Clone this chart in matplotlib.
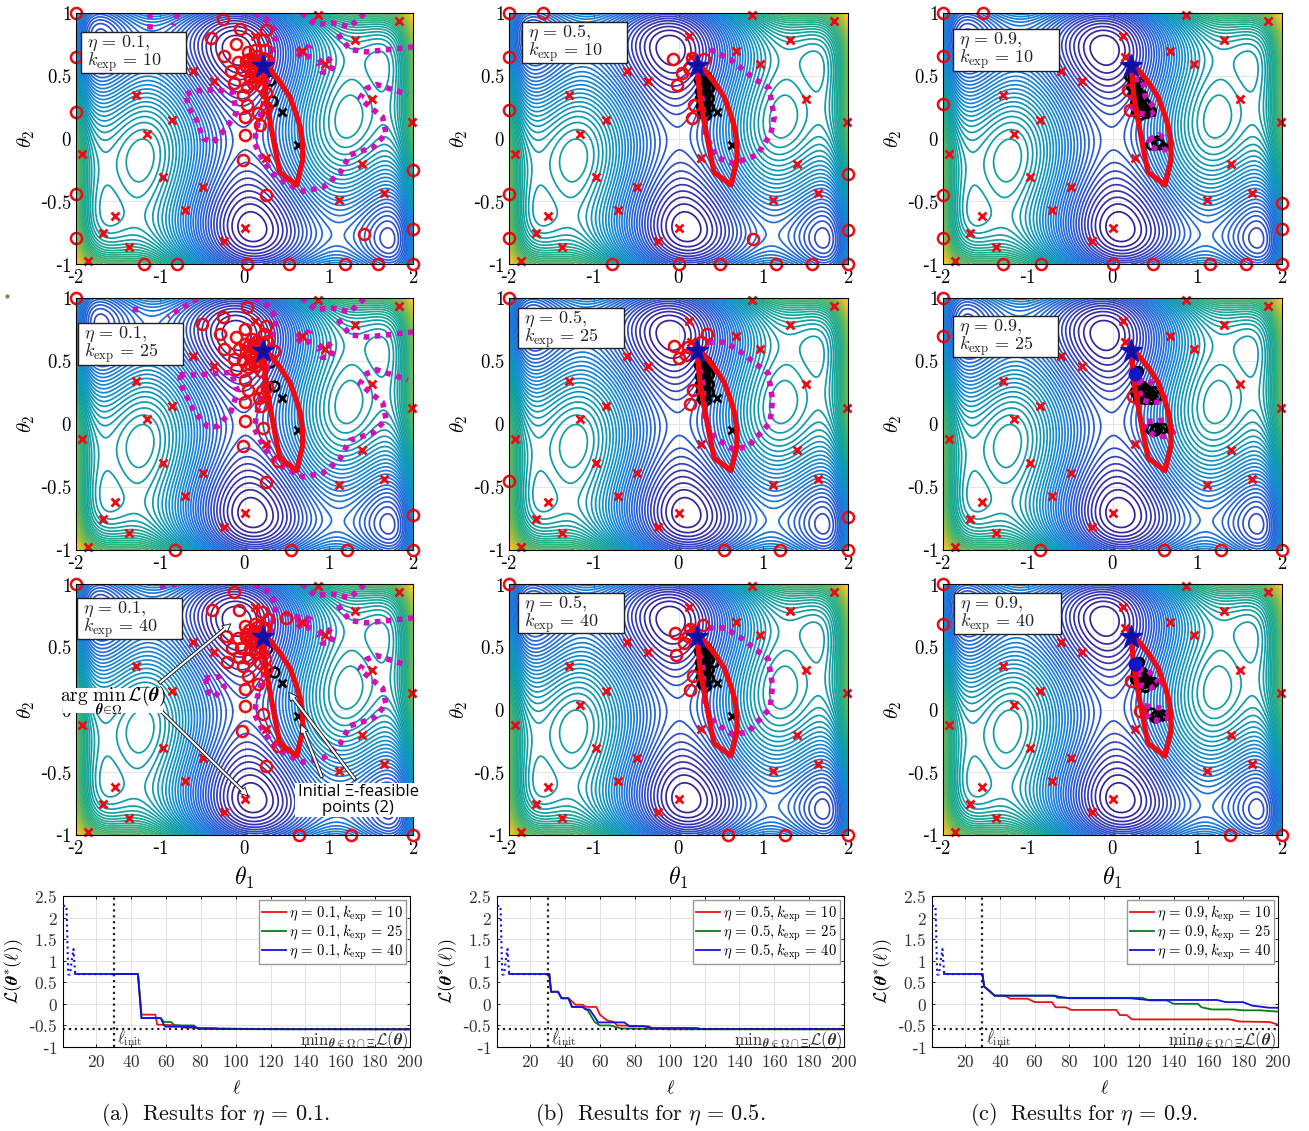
import matplotlib
matplotlib.use('Agg')
import matplotlib.pyplot as plt
import numpy as np
from matplotlib.colors import LinearSegmentedColormap
from matplotlib.lines import Line2D
from matplotlib.patches import Rectangle, FancyArrowPatch

W, H = 1309, 1131
plt.rcParams['mathtext.fontset'] = 'cm'
plt.rcParams['axes.unicode_minus'] = False

etas = ['0.1', '0.5', '0.9']
kexps = ['10', '25', '40']
letters = ['a', 'b', 'c']
caption_x = [216, 650, 1084]

# red crosses, same in every panel
cross_x = [0.87, 1.83, 1.31, 0.68, 0.96, 1.51, 1.99, 1.40, 1.65, 1.12, 0.26, 0.0, -0.245, -0.71,
           -0.49, -0.97, -1.16, -0.86, -1.29, -0.365, -0.61, -1.925, -1.54, -1.68, -1.37, -1.86, 0.12, 0.15]
cross_y = [0.987, 0.936, 0.784, 0.70, 0.595, 0.317, 0.13, -0.203, -0.435, -0.488, -0.155, -0.71, -0.82, -0.573,
           -0.387, -0.307, 0.037, 0.144, 0.344, 0.459, 0.539, -0.123, -0.62, -0.755, -0.867, -0.976, 0.82, 0.65]
start_x = [0.45, 0.63]
start_y = [0.21, -0.05]
star_x, star_y = 0.22, 0.58

# thick red outline
hull = [(0.22, 0.58), (0.30, 0.55), (0.42, 0.45), (0.54, 0.33), (0.62, 0.18), (0.66, 0.09), (0.69, -0.05),
        (0.69, -0.17), (0.62, -0.37), (0.42, -0.27), (0.36, -0.07), (0.30, 0.15), (0.25, 0.35), (0.22, 0.58)]

# tight knot of red circles near the star in the eta = 0.1 panels
knot_01 = [(.02, .58), (.06, .55), (.1, .52), (.14, .55), (.1, .6), (.05, .63), (.16, .6), (.18, .5), (.12, .46),
           (.07, .48), (.2, .55), (.15, .66), (.22, .64)]

# red circles per panel (eta, kexp)
circles = {
    (0, 0): knot_01 + [(-2, 1), (-2, .648), (-2, .208), (-2, -.44), (-2, -.79), (-1.19, -1), (-.806, -1), (.03, -1), (.526, -1),
             (1.19, -1), (1.59, -1), (2, -1), (2, -.72), (2, -.253), (1.415, -.76), (.26, -.453), (-.02, -.173),
             (0, .027), (0, .173), (.18, .107), (.03, .267), (.16, .2), (.26, .253), (-.016, .347), (.26, .36),
             (-.25, .95), (-.055, .872), (.25, .861), (-.4, .8), (-.1, .752), (-.245, .661), (-.16, .539),
             (-.12, .44), (-.075, .613), (.04, .693), (.12, .707), (.24, .707), (.22, .787), (.024, .413),
             (.1, .44), (-.016, .547), (.06, .493), (.02, .62), (.1, .58), (.15, .5), (.2, .42), (.28, .62)],
    (0, 1): knot_01 + [(-2, 1), (-.83, -1), (.55, -1), (1.22, -1), (2, -1), (2, -.725), (.26, -.46), (-.02, -.173), (.4, -.29),
             (0, .027), (.22, -.03), (0, .173), (.2, .14), (.17, .21), (.04, .267), (.27, .29), (.01, .35), (.21, .26),
             (.03, .93), (-.25, .85), (-.5, .795), (-.29, .715), (-.1, .693), (0, .755), (-.24, .595), (.25, .78),
             (.23, .715), (-.12, .515), (-.1, .435), (0, .635), (.09, .675), (.04, .45), (-.06, .595), (.06, .54),
             (.35, .58), (.11, .49), (.15, .61), (.27, .66), (-.02, .51), (.2, .42)],
    (0, 2): knot_01 + [(-2, 1), (.65, -1), (1.27, -1), (2, -1), (-.12, .933), (-.38, .795), (-.07, .795), (.21, .773), (.49, .733),
             (.26, -.453), (-.03, -.173), (.22, -.035), (.4, -.293), (0, .027), (0, .165), (.16, .2), (.04, .267),
             (.25, .32), (-.02, .347), (-.21, .38), (-.15, .488), (-.22, .587), (-.06, .42), (.04, .413), (-.08, .573),
             (0, .667), (.12, .68), (.24, .653), (.06, .547), (.12, .48), (.02, .6), (.28, .72), (-.04, .493),
             (.18, .373), (.14, .57), (.24, .4)],
    (1, 0): [(-2, 1), (-1.6, 1), (-2, .65), (-2, .227), (-2, -.445), (-2, -.795), (-.79, -1), (0, -1), (.49, -1),
             (1.15, -1), (1.58, -1), (2, -1), (2, -.73), (2, -.285), (.88, -.8), (-.07, .632), (-.02, .427), (.16, .16),
             (.18, .27), (.04, .525), (.12, .56), (.16, .64), (.3, .63)],
    (1, 1): [(-2, 1), (-2, -.453), (.54, -1), (1.2, -1), (2, -1), (2, -.74), (-.05, .62), (0, .52), (.11, .61),
             (.34, .715), (.27, .653), (.17, .267), (.14, .16), (.09, .547)],
    (1, 2): [(-2, 1), (.58, -1), (1.26, -1), (2, -1), (-.04, .613), (-.03, .432), (.07, .533), (.11, .587), (.29, .675),
             (.17, .267), (.14, .155), (.13, .64)],
    (2, 0): [(-2, 1), (-1.53, 1), (-2, .66), (-2, .275), (-2, -.453), (-2, -.795), (-1.29, -1), (-.84, -1), (0, -1),
             (.48, -1), (1.15, -1), (1.57, -1), (2, -1), (2, -.72), (2, -.51), (.18, .39), (.21, .227)],
    (2, 1): [(-2, 1), (-2, .7), (-.85, -1), (.61, -1), (1.28, -1), (2, -1), (.24, .22)],
    (2, 2): [(-2, 1), (-2, .683), (1.39, -1), (2, -1), (.22, .227), (.32, -.01)],
}

# black circles per panel: upper strip is joined up, lower knot is not
band_05 = [(.24, .47), (.25, .38), (.25, .32), (.26, .26), (.28, .2), (.33, .19), (.36, .25), (.36, .32), (.36, .4),
           (.36, .47), (.33, .5), (.3, .46), (.3, .36), (.3, .26)]
black_upper = {
    (0, 0): [],
    (0, 1): [],
    (0, 2): [],
    (1, 0): band_05,
    (1, 1): band_05,
    (1, 2): band_05,
    (2, 0): [(.2, .5), (.22, .42), (.24, .35), (.26, .28), (.28, .21), (.33, .19), (.4, .2), (.45, .22), (.38, .28),
             (.35, .35), (.32, .45), (.3, .3), (.3, .22), (.27, .4)],
    (2, 1): [(.27, .4), (.3, .42), (.28, .33), (.27, .25), (.3, .2), (.38, .2), (.45, .2), (.52, .22), (.4, .28),
             (.35, .3), (.48, .26), (.36, .22), (.32, .3)],
    (2, 2): [(.27, .36), (.31, .38), (.28, .3), (.27, .24), (.3, .2), (.38, .18), (.45, .2), (.4, .27), (.35, .3),
             (.48, .22), (.35, .22), (.32, .3)],
}
black_loose = {
    (0, 0): [(.33, .3), (.3, .47)],
    (0, 1): [(.35, .3), (.3, .49)],
    (0, 2): [(.35, .3), (.27, .49)],
    (1, 0): [(.37, .42)],
    (1, 1): [],
    (1, 2): [(.41, .38)],
    (2, 0): [(.45, -.04), (.52, -.03), (.55, -.04), (.53, -.02)],
    (2, 1): [(.45, -.04), (.52, -.03), (.58, -.03), (.5, -.05)],
    (2, 2): [(.45, -.03), (.52, -.04), (.58, -.04), (.5, -.06)],
}
blue_dot = {(2, 1): (.27, .4), (2, 2): (.27, .36)}

# magenta dotted boundary pieces
mag_main = [(.12, 1), (.26, .95), (.38, .84), (.32, .65), (.32, .55), (.26, .44), (.22, .25), (.14, .07), (.12, -.04),
            (.22, -.17), (.34, -.28), (.5, -.36), (.7, -.42), (.93, -.39), (1.13, -.28), (1.25, -.13), (1.53, -.07),
            (1.68, .04), (1.64, .17), (1.49, .25), (1.37, .32), (1.45, .4), (1.57, .43), (1.94, .35)]
mag_top = [(.68, 1), (.84, .91), (1.05, .92), (1.25, .89), (1.43, 1)]
mag_right = [(1.11, .83), (1.25, .71), (1.45, .69), (2, .73)]
ring_a = [(.62, .69), (.7, .74), (.78, .72), (.76, .65), (.68, .64), (.62, .69)]
ring_b = [(.88, .6), (.96, .65), (1.06, .6), (1.02, .53), (.92, .53), (.88, .6)]
mag_ring_05 = [(.35, .65), (.55, .65), (.76, .56), (1.06, .4), (1.11, .19), (1.08, .01), (.82, -.18), (.64, -.2),
               (.43, -.11), (.31, .03), (.29, .32), (.23, .5)]
magenta = {
    (0, 0): [[(-1.12, 1), (-1.12, .86)], [(-.79, 1), (-.85, .9)], mag_main, mag_top, mag_right, ring_a, ring_b,
             [(-.69, .35), (-.61, .38), (-.33, .39), (-.13, .36), (-.1, .2), (-.21, .09), (-.37, -.03), (-.49, 0),
              (-.57, .15), (-.67, .25), (-.69, .35)]],
    (0, 1): [[(-1.29, .93), (-1.31, .85)], [(-.56, 1), (-.91, .85)], mag_main, mag_top, mag_right, ring_a, ring_b,
             [(-.77, .39), (-.55, .39), (-.16, .41), (-.08, .26), (-.16, .1), (-.32, -.02), (-.44, -.02), (-.6, .1),
              (-.74, .29), (-.77, .39)]],
    (0, 2): [[(-1.0, .98), (-.8, 1)], mag_main, mag_top, mag_right, ring_a, ring_b,
             [(.47, .77), (.62, .74), (.8, .68)],
             [(-.47, .25), (-.3, .26), (-.24, .18), (-.36, .1), (-.42, .13), (-.47, .25)]],
    (1, 0): [[(.37, .71), (.61, .63), (.89, .48), (1.07, .40), (1.13, .17), (1.09, .04), (.93, -.13), (.65, -.2),
              (.45, -.15), (.32, .03), (.28, .31), (.22, .49)]],
    (1, 1): [mag_ring_05],
    (1, 2): [mag_ring_05],
    (2, 0): [[(.25, .47), (.35, .47), (.39, .33), (.51, .23), (.45, .19), (.31, .2), (.23, .25), (.23, .39), (.25, .47)],
             [(.43, -.01), (.55, .03), (.7, -.04), (.62, -.09), (.53, -.09), (.43, -.05), (.43, -.01)]],
    (2, 1): [[(.3, .34), (.41, .35), (.61, .26), (.61, .18), (.49, .17), (.34, .19), (.3, .34)],
             [(.41, .02), (.61, .03), (.75, -.05), (.61, -.1), (.49, -.09), (.38, -.03), (.41, .02)]],
    (2, 2): [[(.3, .32), (.41, .32), (.55, .21), (.45, .17), (.34, .19), (.3, .32)],
             [(.38, .03), (.57, .01), (.71, -.05), (.57, -.09), (.45, -.08), (.36, -.01), (.38, .03)]],
}

# best value so far vs iteration, as (iteration, value) breakpoints
init_l = [1, 3, 4, 5, 6, 7, 8, 30]
init_v = [2.27, 2.27, 0.68, 0.68, 1.0, 1.27, 0.69, 0.69]
best_a = {
    '10': [(30, .69), (44, .69), (46, -.25), (54, -.25), (55, -.48), (68, -.5), (70, -.55), (80, -.56), (105, -.58), (200, -.59)],
    '25': [(30, .69), (44, .69), (46, -.33), (57, -.33), (59, -.42), (63, -.42), (65, -.5), (76, -.5), (78, -.56), (88, -.56), (90, -.58), (125, -.58), (200, -.59)],
    '40': [(30, .69), (44, .69), (46, -.33), (57, -.33), (59, -.5), (60, -.53), (76, -.53), (79, -.58), (130, -.59), (200, -.59)],
}
best_b = {
    '10': [(30, .69), (31, .69), (32, .28), (36, .28), (38, .13), (42, .13), (45, .02), (46, -.02), (50, -.02), (52, -.07), (58, -.07), (60, -.25), (64, -.38), (68, -.42), (70, -.5), (88, -.52), (90, -.57), (115, -.58), (200, -.59)],
    '25': [(30, .69), (31, .69), (32, .28), (36, .28), (38, .13), (42, .13), (44, -.07), (50, -.07), (53, -.15), (57, -.42), (60, -.5), (66, -.5), (72, -.57), (100, -.59), (200, -.59)],
    '40': [(30, .69), (31, .69), (32, .28), (36, .28), (38, .13), (42, .13), (44, -.07), (50, -.07), (52, -.13), (54, -.13), (57, -.3), (59, -.43), (74, -.43), (77, -.52), (85, -.52), (90, -.56), (115, -.56), (118, -.58), (200, -.58)],
}
best_c = {
    '10': [(30, .69), (31, .4), (34, .3), (37, .19), (43, .19), (46, .12), (56, .12), (60, .04), (70, .04), (72, -.08), (78, -.08), (81, -.14), (107, -.14), (109, -.26), (113, -.26), (116, -.36), (172, -.36), (178, -.41), (195, -.42), (200, -.48)],
    '25': [(30, .69), (31, .4), (34, .3), (37, .19), (72, .19), (73, .14), (122, .14), (126, .08), (136, .08), (140, 0), (154, 0), (156, -.08), (162, -.13), (175, -.13), (180, -.15), (190, -.15), (200, -.18)],
    '40': [(30, .69), (31, .4), (34, .3), (37, .19), (70, .19), (80, .13), (115, .13), (125, .09), (165, .09), (170, .04), (180, .04), (185, -.04), (195, -.09), (200, -.09)],
}
best_all = [best_a, best_b, best_c]
min_value = -0.59

# axes frames in reference pixels: left, right, top, bottom
cols = [(76, 413), (509, 848), (943, 1282)]
rows = [(13, 264), (298, 550), (584, 835)]
bottom_cols = [(63, 410), (497, 844), (932, 1278)]
# text boxes: left, right, top, bottom
boxes = {(0, 0): (81, 186, 32, 73), (1, 0): (522, 627, 22, 63), (2, 0): (953, 1059, 29, 71),
         (0, 1): (78, 183, 323, 365), (1, 1): (518, 624, 308, 348), (2, 1): (953, 1058, 316, 357),
         (0, 2): (77, 182, 598, 639), (1, 2): (518, 624, 593, 633), (2, 2): (954, 1061, 593, 634)}

parula = LinearSegmentedColormap.from_list('parula', [
    (0.00, (0.20, 0.12, 0.58)), (0.08, (0.22, 0.22, 0.72)), (0.17, (0.16, 0.36, 0.84)), (0.30, (0.10, 0.50, 0.86)),
    (0.40, (0.06, 0.58, 0.76)), (0.50, (0.06, 0.62, 0.66)), (0.62, (0.15, 0.68, 0.52)), (0.76, (0.50, 0.74, 0.30)),
    (0.90, (0.92, 0.74, 0.18)), (1.00, (1.00, 0.86, 0.05))])

# Background surface: the six-hump camel test function, which the contours follow.
gx, gy = np.meshgrid(np.linspace(-2, 2, 600), np.linspace(-1, 1, 400))
field = (4 - 2.1 * gx**2 + gx**4 / 3) * gx**2 + gx * gy + (-4 + 4 * gy**2) * gy**2
levels = np.linspace(field.min(), field.max(), 62)[1:]


def px_axes(fig, left, right, top, bottom):
    return fig.add_axes([left / W, 1 - bottom / H, (right - left) / W, (bottom - top) / H])


def tick_text(v):
    s = ('%g' % abs(v))
    return ('-$%s$' % s) if v < 0 else ('$%s$' % s)


fig = plt.figure(figsize=(W / 100, H / 100), dpi=100)
fig.add_artist(Line2D([7 / W], [1 - 296 / H], marker='o', ms=2, color='#8a7a5a', lw=0))

for c in range(3):
    for r in range(3):
        ax = px_axes(fig, cols[c][0], cols[c][1], rows[r][0], rows[r][1])
        ax.contour(gx, gy, field, levels=levels, cmap=parula, vmin=field.min(), vmax=field.max(), linewidths=1.25, zorder=2)
        ax.set_xlim(-2, 2)
        ax.set_ylim(-1, 1)
        ax.set_xticks([-2, -1, 0, 1, 2])
        ax.set_yticks([-1, -0.5, 0, 0.5, 1])
        ax.set_xticklabels([tick_text(v) for v in ax.get_xticks()], fontsize=13.5)
        ax.set_yticklabels([tick_text(v) for v in ax.get_yticks()], fontsize=13.5)
        ax.tick_params(direction='in', length=3, width=0.6, top=True, right=True, pad=3)
        ax.grid(color='#e4e4e4', lw=0.7, zorder=0)
        ax.set_axisbelow(True)
        ax.set_ylabel(r'$\theta_2$', fontsize=15, labelpad=2)
        if r == 2:
            ax.set_xlabel(r'$\theta_1$', fontsize=17, labelpad=5)

        upper = black_upper[(c, r)]
        if upper:
            pts = np.array(upper)
            ax.plot(pts[:, 0], pts[:, 1], 'o-', lw=3.2, ms=6, mfc='none', mec='black', mew=2.2, color='black', zorder=4)
        loose = black_loose[(c, r)]
        if loose:
            pts = np.array(loose)
            ax.plot(pts[:, 0], pts[:, 1], 'o', ms=7, mfc='none', mec='black', mew=1.8, zorder=4)
        ax.plot(start_x, start_y, 'x', ms=6, mew=2, color='black', zorder=4)
        for seg in magenta[(c, r)]:
            pts = np.array(seg)
            ax.plot(pts[:, 0], pts[:, 1], color='#d010b8', lw=4, ls=(0, (1, 1)), zorder=5)
        pts = np.array(circles[(c, r)])
        ax.plot(pts[:, 0], pts[:, 1], 'o', ms=8, mfc='none', mec='#ee0a12', mew=1.8, zorder=6, clip_on=False)
        ax.plot(cross_x, cross_y, 'x', ms=6, mew=2, color='#ee0a12', zorder=6, clip_on=False)
        pts = np.array(hull)
        ax.plot(pts[:, 0], pts[:, 1], color='#ee0a12', lw=3.8, zorder=7, solid_joinstyle='round')
        if (c, r) in blue_dot:
            ax.plot(*blue_dot[(c, r)], 'o', ms=9, color='#1414c8', zorder=8)
        ax.plot(star_x, star_y, '*', ms=17, color='#10109c', mec='#1414c8', zorder=9)
        for s in ax.spines.values():
            s.set_linewidth(0.8)
            s.set_zorder(10)

        # eta / kexp box
        bl, br, bt, bb = boxes[(c, r)]
        fig.add_artist(Rectangle((bl / W, 1 - bb / H), (br - bl) / W, (bb - bt) / H, transform=fig.transFigure,
                                 fc='white', ec='#222222', lw=1.0, zorder=20))
        fig.text((bl + 6) / W, 1 - (bt + 11) / H, r'$\eta\,=\,%s,$' % etas[c], fontsize=13, va='center', zorder=21, color='#222222')
        fig.text((bl + 6) / W, 1 - (bt + 30) / H, r'$k_{\mathrm{exp}}\,=\,%s$' % kexps[r], fontsize=13, va='center', zorder=21, color='#222222')

# annotation on the lower left panel
fig.add_artist(Rectangle((63 / W, 1 - 713 / H), 100 / W, 25 / H, transform=fig.transFigure, fc='white', ec='none', zorder=22))
fig.text(113 / W, 1 - 700 / H, r'$\arg\,\min_{\boldsymbol{\theta}\in\Omega}\,\mathcal{L}(\boldsymbol{\theta})$',
         fontsize=14, ha='center', va='center', zorder=23)
fig.add_artist(Rectangle((295 / W, 1 - 817 / H), 125 / W, 34 / H, transform=fig.transFigure, fc='white', ec='none', zorder=22))
fig.text(358 / W, 1 - 800 / H, 'Initial \u039e-feasible\npoints (2)', fontsize=12, ha='center', va='center',
         family='Open Sans', linespacing=1.0, zorder=23)
arrows = [((157, 685), (233, 622)), ((157, 707), (250, 798)), ((357, 782), (287, 690)), ((323, 780), (300, 722))]
for (x0, y0), (x1, y1) in arrows:
    fig.add_artist(FancyArrowPatch(
        (x0 / W, 1 - y0 / H), (x1 / W, 1 - y1 / H), transform=fig.transFigure, arrowstyle='simple,head_width=6,head_length=6,tail_width=2.2',
        fc='white', ec='#222222', lw=0.7, zorder=21))

line_colors = {'10': '#f01010', '25': '#0a7a1a', '40': '#1010e0'}
for c in range(3):
    ax = px_axes(fig, bottom_cols[c][0], bottom_cols[c][1], 896, 1047)
    ax.plot(init_l, init_v, color='#1010e0', lw=1.5, ls=':', zorder=3)
    for k in kexps:
        pts = np.array(best_all[c][k])
        ax.plot(pts[:, 0], pts[:, 1], color=line_colors[k], lw=1.3, zorder=4,
                label=r'$\eta\,=\,%s,k_{\mathrm{exp}}\,=\,%s$' % (etas[c], k))
    ax.plot([8, 30], [0.69, 0.69], color='#1010e0', lw=1.3, zorder=4)
    ax.axvline(30, color='#222222', lw=1.6, ls=':', zorder=5)
    ax.axhline(min_value, color='#222222', lw=1.6, ls=':', zorder=5)
    ax.set_xlim(1, 200)
    ax.set_ylim(-1, 2.5)
    ax.set_xticks(np.arange(20, 201, 20))
    ax.set_yticks([-1, -0.5, 0, 0.5, 1, 1.5, 2, 2.5])
    ax.set_xticklabels([tick_text(v) for v in ax.get_xticks()], fontsize=12.5, color='#333333')
    ax.set_yticklabels([tick_text(v) for v in ax.get_yticks()], fontsize=12.5, color='#333333')
    ax.tick_params(direction='in', length=2.5, width=0.6, top=True, right=True, pad=4)
    ax.grid(color='#e2e2e2', lw=0.7)
    ax.set_axisbelow(True)
    ax.set_xlabel(r'$\ell$', fontsize=13, labelpad=6)
    ax.set_ylabel(r'$\mathcal{L}(\boldsymbol{\theta}^{*}(\ell))$', fontsize=13, labelpad=2)
    ax.text(32, -0.8, r'$\ell_{\mathrm{init}}$', fontsize=12, color='#333333', va='center')
    ax.text(199, -0.85, r'$\mathrm{min}_{\boldsymbol{\theta}\in\Omega\cap\Xi}\mathcal{L}(\boldsymbol{\theta})$', fontsize=12,
            color='#333333', ha='right', va='center')
    leg = ax.legend(loc='upper right', fontsize=10.5, frameon=True, fancybox=False, framealpha=1, edgecolor='#999999',
                    borderaxespad=0.3, handlelength=1.7, handletextpad=0.15, labelspacing=-0.1, borderpad=0.2)
    leg.get_frame().set_linewidth(1.0)
    leg.set_zorder(8)
    fig.text(caption_x[c] / W, 1 - 1115 / H, r'$\mathrm{(%s)\ \ Results\ for}\ \eta\,=\,%s.$' % (letters[c], etas[c]),
             fontsize=16, ha='center', va='center', color='#111111')

fig.savefig('out.png', dpi=100)
